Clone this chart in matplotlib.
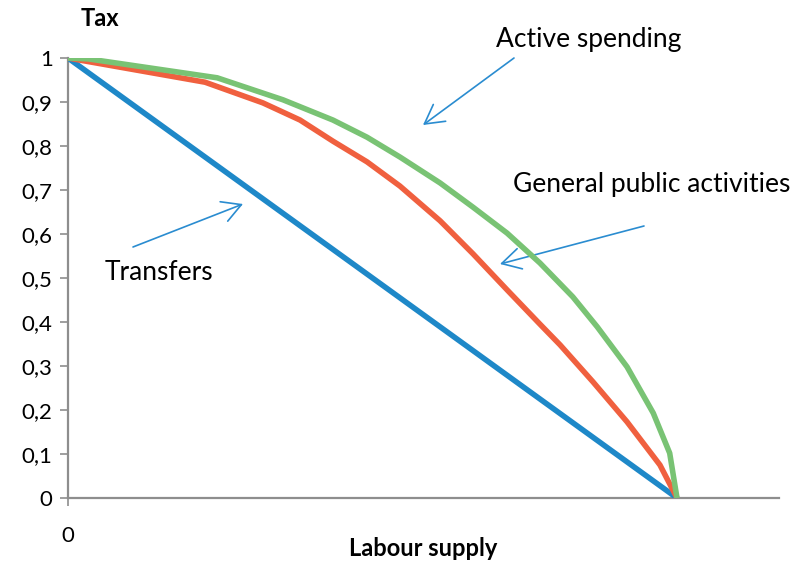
#!/usr/bin/env python3
"""Tax vs labour supply curves."""

import matplotlib.pyplot as plt
import numpy as np

plt.rcParams["font.family"] = ["Lato", "DejaVu Sans"]

# labour supply as share of the max (0 .. 1), tax on the y axis
labour_green = [0.0, 0.033, 0.245, 0.353, 0.435, 0.491, 0.545, 0.611, 0.665, 0.721,
                0.775, 0.829, 0.869, 0.918, 0.961, 0.988, 1.0]
active_spending = [1.0, 0.998, 0.955, 0.905, 0.859, 0.820, 0.775, 0.716, 0.661, 0.602,
                   0.534, 0.457, 0.389, 0.298, 0.193, 0.102, 0.0]

labour_red = [0.0, 0.225, 0.320, 0.381, 0.435, 0.491, 0.545, 0.611, 0.665, 0.721,
              0.775, 0.808, 0.862, 0.918, 0.972, 1.0]
general_public = [1.0, 0.945, 0.898, 0.859, 0.811, 0.764, 0.709, 0.630, 0.555, 0.473,
                  0.395, 0.348, 0.264, 0.173, 0.075, 0.0]

labour_blue = [0.0, 1.0]
transfers = [1.0, 0.0]

y_ticks = np.round(np.arange(0, 1.01, 0.1), 1)
y_labels = ["0"] + [f"{t:.1f}".replace(".", ",") for t in y_ticks[1:-1]] + ["1"]

BLUE = "#1E88C8"
RED = "#F0603F"
GREEN = "#79C374"
AXIS = "#8E8E8E"

fig = plt.figure(figsize=(8.01, 5.62), dpi=100)
ax = fig.add_axes([68 / 801, 64 / 562, 711 / 801, 440 / 562])

ax.plot(labour_blue, transfers, color=BLUE, lw=4, solid_capstyle="butt", zorder=3)
ax.plot(labour_red, general_public, color=RED, lw=4, solid_capstyle="butt", zorder=3)
ax.plot(labour_green, active_spending, color=GREEN, lw=4, solid_capstyle="butt", zorder=4)

ax.set_xlim(0, 711 / 609)
ax.set_ylim(0, 1)
ax.set_yticks(y_ticks)
ax.set_yticklabels(y_labels, fontsize=16)
ax.set_xticks([0])
ax.set_xticklabels(["0"], fontsize=16)

for s in ["top", "right"]:
    ax.spines[s].set_visible(False)
for s in ["left", "bottom"]:
    ax.spines[s].set_color(AXIS)
    ax.spines[s].set_linewidth(1.6)
ax.tick_params(axis="y", colors=AXIS, length=6, width=1.2, pad=5, labelcolor="black")
ax.tick_params(axis="x", colors=AXIS, length=6, width=1.2, pad=14, labelcolor="black")

fig.text(100 / 801, 1 - 18 / 562, "Tax", fontsize=17, fontweight="bold", ha="center", va="center")
fig.text(423 / 801, 1 - 548 / 562, "Labour supply", fontsize=17, fontweight="bold", ha="center", va="center")

arrow = dict(arrowstyle="->,head_length=0.45,head_width=0.25", color="#2A8CD0", lw=1.2,
             mutation_scale=30, shrinkA=0, shrinkB=0)


def px(x, y):
    return (x / 801, 1 - y / 562)


ax.annotate("", xy=px(423, 125), xytext=px(514, 58), xycoords="figure fraction", arrowprops=arrow)
ax.annotate("", xy=px(500, 264), xytext=px(644, 226), xycoords="figure fraction", arrowprops=arrow)
ax.annotate("", xy=px(243, 204), xytext=px(133, 247), xycoords="figure fraction", arrowprops=arrow)

fig.text(*px(496, 40), "Active spending", fontsize=19, ha="left", va="center")
fig.text(*px(513, 184), "General public activities", fontsize=19, ha="left", va="center")
fig.text(*px(105, 272), "Transfers", fontsize=19, ha="left", va="center")

fig.savefig("out.png", dpi=100)
